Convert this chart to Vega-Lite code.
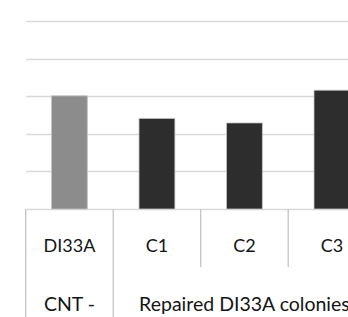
{
  "$schema": "https://vega.github.io/schema/vega-lite/v6.json",
  "width": 329,
  "height": 209,
  "autosize": {"type": "none"},
  "padding": {"left": 19, "top": 0, "right": 0, "bottom": 108},
  "background": "white",
  "config": {"view": {"stroke": null}, "font": "Lato"},
  "datasets": {
    "bars": [
      {"cat": "DI33A", "value": 3.01, "group": "CNT -"},
      {"cat": "C1", "value": 2.41, "group": "Repaired DI33A colonies"},
      {"cat": "C2", "value": 2.29, "group": "Repaired DI33A colonies"},
      {"cat": "C3", "value": 3.16, "group": "Repaired DI33A colonies"}
    ],
    "groups": [
      {"group": "CNT -", "cat": "DI33A"},
      {"group": "Repaired DI33A colonies", "cat": "C2"}
    ]
  },
  "layer": [
    {
      "data": {"name": "bars"},
      "mark": {"type": "bar", "width": {"band": 0.41}, "stroke": "#c4c4c4", "strokeWidth": 0.8},
      "encoding": {
        "x": {"field": "cat", "type": "nominal", "sort": ["DI33A", "C1", "C2", "C3"],
              "scale": {"domain": ["DI33A", "C1", "C2", "C3"], "range": [6.7, 356.7], "paddingInner": 0, "paddingOuter": 0},
              "axis": null},
        "y": {"field": "value", "type": "quantitative",
              "scale": {"domain": [0, 5.56], "nice": false},
              "axis": {"values": [0, 1, 2, 3, 4, 5], "labels": false, "ticks": false, "domain": false, "title": null,
                       "gridColor": "#d9d9d9", "gridWidth": 1.3}},
        "color": {"field": "group", "type": "nominal",
                  "scale": {"domain": ["CNT -", "Repaired DI33A colonies"], "range": ["#8c8c8c", "#2d2d2d"]},
                  "legend": null}
      }
    },
    {
      "data": {"name": "bars"},
      "transform": [{"filter": {"field": "cat", "oneOf": ["DI33A", "C1"]}}],
      "mark": {"type": "rule", "color": "#bfbfbf", "strokeWidth": 1.2},
      "encoding": {
        "x": {"field": "cat", "type": "nominal", "bandPosition": 0},
        "y": {"datum": 0},
        "y2": {"datum": -3}
      }
    },
    {
      "data": {"name": "bars"},
      "transform": [{"filter": {"field": "cat", "oneOf": ["C2", "C3"]}}],
      "mark": {"type": "rule", "color": "#bfbfbf", "strokeWidth": 1.2},
      "encoding": {
        "x": {"field": "cat", "type": "nominal", "bandPosition": 0},
        "y": {"datum": 0},
        "y2": {"datum": -1.54}
      }
    },
    {
      "data": {"name": "bars"},
      "mark": {"type": "text", "fontSize": 18, "baseline": "alphabetic", "align": "center", "color": "#141414"},
      "encoding": {
        "x": {"field": "cat", "type": "nominal"},
        "y": {"datum": -1.136},
        "text": {"field": "cat"}
      }
    },
    {
      "data": {"name": "groups"},
      "mark": {"type": "text", "fontSize": 19.5, "baseline": "alphabetic", "align": "center", "color": "#141414"},
      "encoding": {
        "x": {"field": "cat", "type": "nominal"},
        "y": {"datum": -2.72},
        "text": {"field": "group"}
      }
    }
  ]
}
